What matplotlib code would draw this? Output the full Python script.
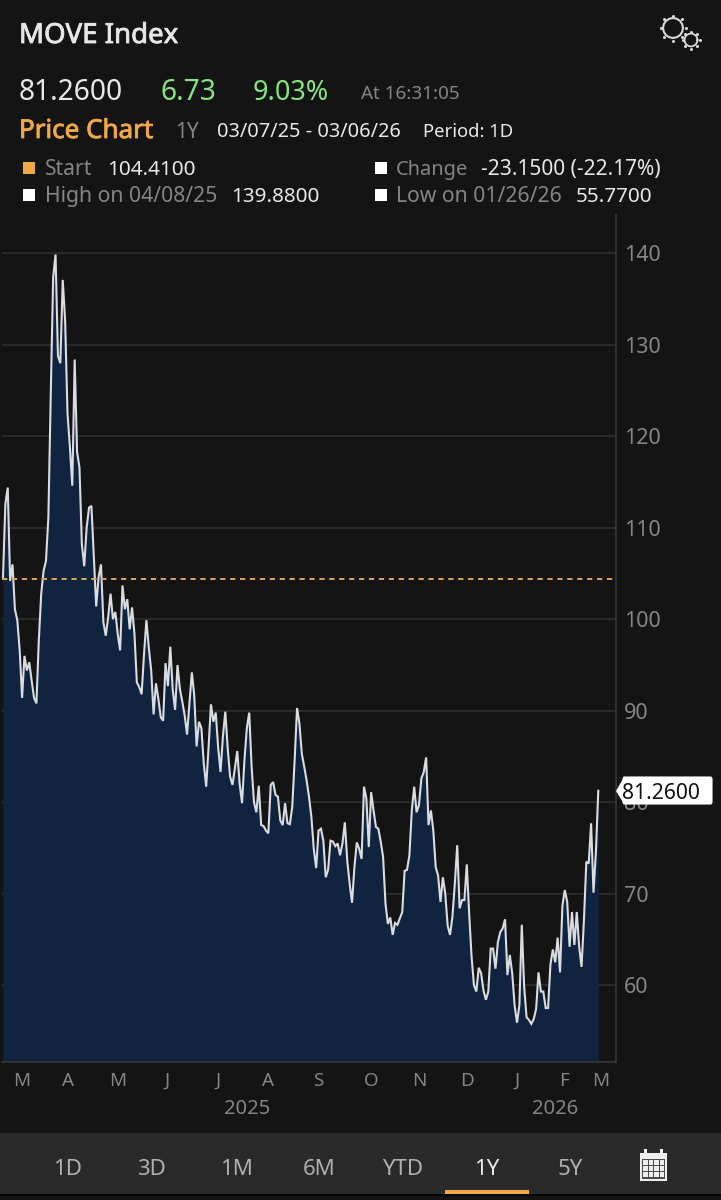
#!/usr/bin/env python3

import matplotlib
matplotlib.use("Agg")
import matplotlib.patheffects as pe
import matplotlib.pyplot as plt
from matplotlib.patches import FancyBboxPatch, Polygon, Rectangle

W, H = 721, 1200
BG = "#141414"
BAR = "#2a2a2a"
NAVY = "#10233f"
ORANGE = "#f0a848"
GREEN = "#86e57f"
GREY = "#858585"
LIGHT = "#e8e8e8"

values = [
    104.41, 112.6, 114.4, 104.2, 106.0, 101.1, 99.9, 96.6, 91.4, 96.0,
    94.4, 95.3, 93.3, 91.4, 90.8, 97.7, 102.8, 105.3, 106.4, 111.2,
    124.7, 137.4, 139.88, 128.8, 128.0, 137.1, 132.7, 122.5, 118.8, 114.6,
    128.4, 118.3, 116.6, 108.2, 105.8, 110.0, 112.2, 112.4, 106.8, 101.4,
    104.6, 106.0, 99.7, 98.2, 100.2, 102.8, 100.0, 100.8, 98.4, 96.6,
    103.7, 101.1, 102.2, 98.9, 101.3, 98.4, 93.1, 92.6, 91.8, 96.2,
    99.9, 96.9, 94.4, 89.6, 93.0, 91.3, 89.3, 88.9, 95.2, 92.7,
    97.0, 92.3, 90.1, 95.0, 92.4, 91.0, 89.5, 87.4, 90.8, 94.2,
    91.7, 86.1, 88.8, 88.1, 84.2, 81.7, 86.0, 90.7, 88.8, 89.8,
    86.0, 83.3, 87.2, 89.9, 85.9, 82.8, 81.9, 83.7, 85.6, 82.0,
    79.9, 84.6, 88.1, 89.8, 83.9, 80.0, 78.9, 81.8, 77.5, 77.4,
    76.9, 76.6, 81.9, 82.2, 80.8, 80.6, 78.0, 77.5, 79.9, 77.7,
    77.6, 79.5, 84.6, 90.3, 88.6, 85.3, 83.9, 82.4, 80.6, 78.4,
    74.9, 72.8, 76.9, 77.1, 75.8, 71.8, 72.6, 75.8, 75.7, 75.2,
    75.5, 74.2, 75.5, 77.8, 73.6, 71.1, 69.0, 72.9, 75.6, 74.9,
    73.8, 81.7, 80.4, 75.1, 81.1, 79.1, 77.3, 77.1, 75.7, 74.0,
    68.9, 66.7, 67.4, 65.5, 66.8, 66.6, 67.3, 68.0, 72.5, 72.6,
    74.2, 79.1, 81.7, 78.9, 79.7, 82.6, 83.3, 84.9, 77.5, 79.1,
    76.9, 72.9, 72.0, 69.1, 71.8, 70.0, 66.5, 65.5, 67.5, 71.1,
    75.3, 68.4, 69.3, 69.3, 73.2, 67.8, 63.1, 60.0, 59.3, 61.9,
    61.3, 59.4, 58.4, 59.3, 64.0, 64.0, 61.8, 64.7, 65.8, 66.2,
    67.2, 61.1, 63.3, 61.3, 57.8, 55.9, 57.8, 66.6, 59.8, 56.5,
    56.2, 55.77, 56.3, 57.4, 61.4, 59.3, 59.3, 57.5, 57.5, 62.3,
    63.9, 62.5, 65.2, 61.4, 68.7, 70.4, 69.1, 64.2, 68.0, 64.4,
    68.0, 64.2, 62.0, 67.1, 73.5, 73.3, 77.7, 70.1, 74.53, 81.26,
]
start_value = 104.41
last_value = 81.26
month_labels = ["M", "A", "M", "J", "J", "A", "S", "O", "N", "D", "J", "F", "M"]
month_pos = [8, 27, 48, 68.6, 90, 111, 132, 154, 174, 194, 215, 234.6, 250]
year_labels = ["2025", "2026"]
year_pos = [102, 231]
y_ticks = [60, 70, 80, 90, 100, 110, 120, 130, 140]
range_buttons = ["1D", "3D", "1M", "6M", "YTD", "1Y", "5Y"]
button_x = [68, 152, 236, 319, 403, 487, 570]

# pixel helpers, y counted from the top of the picture
def fx(x):
    return x / W


def fy(y):
    return 1 - y / H


plt.rcParams["font.family"] = ["Noto Sans", "DejaVu Sans"]
fig = plt.figure(figsize=(W / 100, H / 100), dpi=100, facecolor=BG)


def put(x, y, s, px, color, heavy=False):
    t = fig.text(fx(x), fy(y), s, fontsize=px * 0.72, color=color, va="baseline")
    if heavy:
        t.set_path_effects([pe.withStroke(linewidth=0.6, foreground=color)])


def rect(x0, y0, x1, y1, color):
    fig.add_artist(Rectangle((fx(x0), fy(y1)), (x1 - x0) / W, (y1 - y0) / H,
                             transform=fig.transFigure, facecolor=color, edgecolor="none"))


# chart
ax_left, ax_right, ax_top, ax_bottom = 2, 615.5, 215, 1062
ax = fig.add_axes([fx(ax_left), fy(ax_bottom), (ax_right - ax_left) / W, (ax_bottom - ax_top) / H])
ax.set_facecolor(BG)
xs = list(range(len(values)))
ax.set_xlim(-0.4, 256.2)
ax.set_ylim(51.6, 144.2)
ax.fill_between(xs, values, 51.6, color=NAVY, linewidth=0, zorder=2)
ax.plot(xs, values, color="#d9dce0", linewidth=1.5, solid_joinstyle="miter", zorder=3)
ax.axhline(start_value, color="#e2a558", linewidth=1.4, dashes=(2.7, 2.4), zorder=4)

ax.yaxis.tick_right()
ax.set_yticks(y_ticks)
ax.grid(axis="y", color="#2e2e2e", linewidth=1.2, zorder=1)
ax.set_axisbelow(True)
ax.set_xticks(month_pos, month_labels)
ax.set_xticks(year_pos, year_labels, minor=True)
ax.tick_params(axis="y", length=0, pad=6, labelsize=15.5, labelcolor=GREY)
ax.tick_params(axis="x", which="major", length=0, pad=7, labelsize=13.5, labelcolor=GREY)
ax.tick_params(axis="x", which="minor", length=0, pad=27, labelsize=14.5, labelcolor=GREY)
ax.spines["top"].set_visible(False)
ax.spines["left"].set_visible(False)
ax.spines["right"].set_color("#353535")
ax.spines["bottom"].set_color("#353535")
ax.spines["right"].set_linewidth(1.3)
ax.spines["bottom"].set_linewidth(1.3)

# last price tag
fig.add_artist(FancyBboxPatch((fx(623), fy(804)), 89 / W, 27 / H, transform=fig.transFigure,
                              boxstyle="round,pad=0,rounding_size=0.002", facecolor="white",
                              edgecolor="white", linewidth=0.8, zorder=10))
fig.add_artist(Polygon([(fx(616), fy(791)), (fx(624), fy(777)), (fx(624), fy(804))],
                       transform=fig.transFigure, facecolor="white", edgecolor="none", zorder=10))
fig.text(fx(622), fy(799), "%.4f" % last_value, fontsize=15.2, color="#111111", va="baseline", zorder=11)

# header
put(19, 43, "MOVE Index", 27.6, "#e6e6e6", heavy=True)
put(19, 100, "81.2600", 28.2, LIGHT)
put(161, 100, "6.73", 28.2, GREEN)
put(253, 100, "9.03%", 27, GREEN)
put(361, 99, "At 16:31:05", 18.8, GREY)
put(19, 138, "Price Chart", 26, ORANGE, heavy=True)
put(175, 138, "1Y", 21, GREY)
put(217, 137, "03/07/25 - 03/06/26", 20, LIGHT)
put(423, 137, "Period: 1D", 18.5, LIGHT)

rect(23, 162, 35, 174, ORANGE)
rect(23, 189, 35, 201, "white")
rect(375, 162, 387, 174, "white")
rect(375, 189, 387, 201, "white")
put(45, 175, "Start", 21, GREY)
put(107, 175, "104.4100", 20.7, LIGHT)
put(45, 202, "High on 04/08/25", 21.2, GREY)
put(231, 202, "139.8800", 20.7, LIGHT)
put(396, 175, "Change", 20, GREY)
put(481, 175, "-23.1500 (-22.17%)", 20.9, LIGHT)
put(396, 202, "Low on 01/26/26", 21.2, GREY)
put(576, 202, "55.7700", 20.7, LIGHT)

# gears
circle_c = (1, 0.92, 0.71, 0.38, 0, -0.38, -0.71, -0.92, -1, -0.92, -0.71, -0.38, 0, 0.38, 0.71, 0.92, 1)
circle_s = (0, 0.38, 0.71, 0.92, 1, 0.92, 0.71, 0.38, 0, -0.38, -0.71, -0.92, -1, -0.92, -0.71, -0.38, 0)
tooth_c = (1, 0.71, 0, -0.71, -1, -0.71, 0, 0.71)
tooth_s = (0, 0.71, 1, 0.71, 0, -0.71, -1, -0.71)
for cx, cy, r, lw, teeth_r in [(673, 28, 10, 1.5, 12.5), (691, 40, 6.5, 1.3, 8.5)]:
    fig.add_artist(plt.Line2D([fx(cx + r * c) for c in circle_c], [fy(cy + r * s) for s in circle_s],
                              color="#d8d8d8", linewidth=lw))
    fig.add_artist(plt.Line2D([fx(cx + teeth_r * c) for c in tooth_c], [fy(cy + teeth_r * s) for s in tooth_s],
                              color="#d8d8d8", linestyle="none", marker="o", markersize=2.2, markeredgewidth=0))

# range bar
rect(0, 1133, W, 1194, BAR)
rect(0, 1194, W, 1196, "#050505")
for label, x in zip(range_buttons, button_x):
    col = "#e8e8e8" if label == "1Y" else "#b0b0b0"
    fig.text(fx(x), fy(1175), label, fontsize=16, color=col, ha="center", va="baseline")
rect(445, 1190, 529, 1193.5, ORANGE)

# calendar icon
rect(640, 1153, 667, 1181, "#eeeeee")
rect(644, 1149, 646.5, 1154, "#eeeeee")
rect(660, 1149, 662.5, 1154, "#eeeeee")
rect(642, 1159, 665, 1179, "#4a4a4a")
for row in range(3):
    for col in range(4):
        rect(643 + col * 5.6, 1160 + row * 6.2, 647.6 + col * 5.6, 1165 + row * 6.2, "#eeeeee")

fig.savefig("out.png", dpi=100, facecolor=BG)
